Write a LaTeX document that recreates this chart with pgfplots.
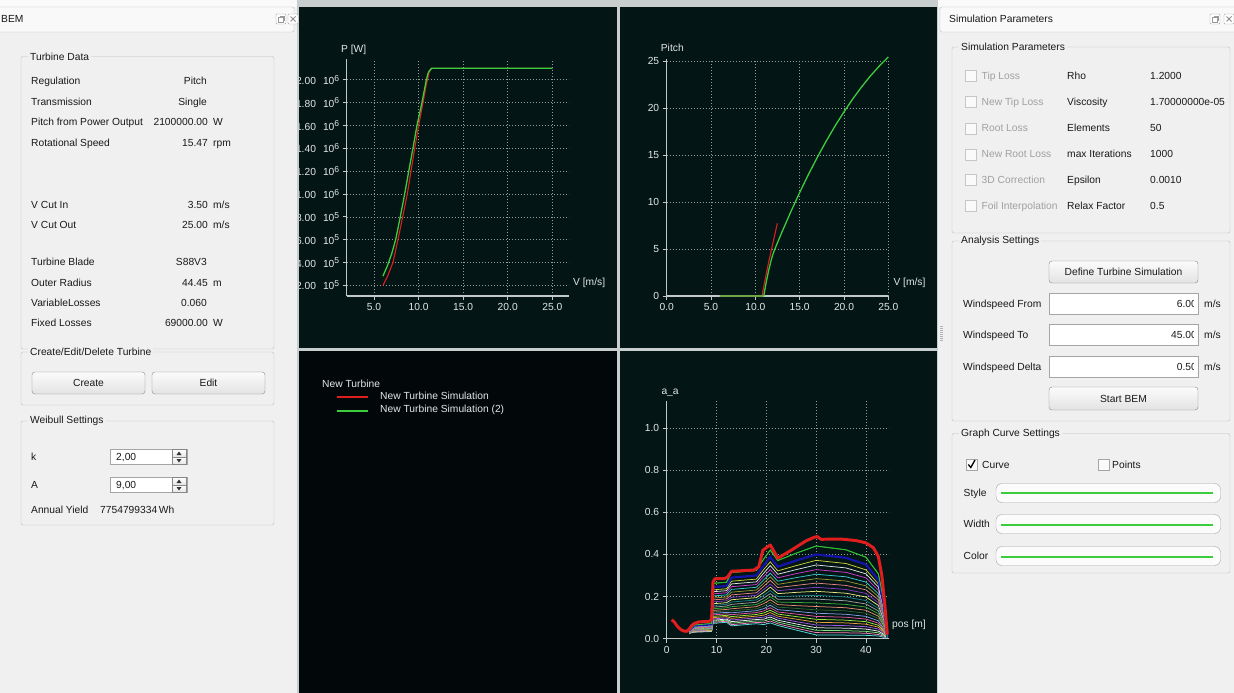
\documentclass[border=0pt]{standalone}
\usepackage{fontspec}
\setmainfont{Liberation Sans}
\usepackage{pgfplots}
\usepackage{pgfplotstable}
\pgfplotsset{compat=1.18}

\definecolor{guibg}{RGB}{240,240,240}
\definecolor{topc}{RGB}{250,250,250}
\definecolor{gboxc}{RGB}{190,190,190}
\definecolor{plotbg}{RGB}{3,21,21}
\definecolor{legbg}{RGB}{2,8,10}
\definecolor{sepc}{RGB}{200,206,206}
\definecolor{axc}{RGB}{195,200,200}
\definecolor{gridc}{RGB}{150,156,156}
\definecolor{tickc}{RGB}{228,230,230}
\definecolor{cred}{RGB}{225,30,30}
\definecolor{cgreen}{RGB}{60,205,60}
\definecolor{dis}{RGB}{160,160,160}
\definecolor{txt}{RGB}{25,25,25}
\definecolor{fieldb}{RGB}{165,165,165}
\definecolor{btnb}{RGB}{135,135,135}
\definecolor{aa1}{RGB}{50,190,50}
\definecolor{aa2}{RGB}{20,20,170}
\definecolor{aa3}{RGB}{210,210,60}
\definecolor{aa4}{RGB}{225,225,225}
\definecolor{aa5}{RGB}{210,60,210}
\definecolor{aa6}{RGB}{60,200,200}
\definecolor{aa7}{RGB}{150,150,50}
\definecolor{aa8}{RGB}{230,130,130}
\definecolor{aa9}{RGB}{130,60,200}
\definecolor{aa10}{RGB}{230,230,130}
\definecolor{aa11}{RGB}{30,130,130}
\definecolor{aa12}{RGB}{160,160,160}
\definecolor{aa13}{RGB}{60,170,60}
\definecolor{aa14}{RGB}{230,140,110}
\definecolor{aa15}{RGB}{50,100,50}
\definecolor{aa16}{RGB}{130,160,230}
\definecolor{aa17}{RGB}{230,90,160}
\definecolor{aa18}{RGB}{160,230,60}
\definecolor{aa19}{RGB}{230,160,60}
\definecolor{aa20}{RGB}{160,90,230}
\definecolor{aa21}{RGB}{240,240,240}
\definecolor{aa22}{RGB}{130,230,130}
\definecolor{aa23}{RGB}{255,130,190}
\definecolor{aa24}{RGB}{90,225,225}

\newcommand\fs{\fontsize{10.3}{12}\selectfont}
\newcommand\sx[1]{\raisebox{3.3pt}{\fontsize{8.6}{9}\selectfont #1}}
\newcommand{\txtL}[3]{\node[anchor=base west,inner sep=0pt] at (#1,#2+3.7) {#3};}
\newcommand{\txtR}[3]{\node[anchor=base east,inner sep=0pt] at (#1,#2+3.7) {#3};}
\newcommand{\gbox}[5]{\draw[gboxc, rounded corners=2bp] (#1,#2) rectangle (#3,#4);
  \node[anchor=west, fill=guibg, inner xsep=2bp, inner ysep=1bp, text=txt] at (#1+7,#2) {#5};}
\newcommand{\btn}[5]{\shade[top color=white!97!gray, bottom color=gray!22, draw=btnb, rounded corners=3bp] (#1,#2) rectangle (#3,#4);
  \node[text=txt, inner sep=0pt, anchor=base] at ({(#1+#3)/2},{(#2+#4)/2+3.7}) {#5};}
\newcommand{\cbox}[3]{\draw[#3, fill=white!96!gray] (#1,#2-5.5) rectangle +(11,11);}

% ---------- data ----------
\pgfplotstableread{
V P
6.00 197000
6.50 275000
7.13 400000
7.69 600000
8.22 800000
8.74 1000000
9.15 1200000
9.57 1400000
10.01 1600000
10.50 1800000
10.85 1950000
11.20 2070000
11.50 2100000
25.00 2100000
}\powR
\pgfplotstableread{
V P
6.00 280000
6.50 370000
7.00 480000
7.43 600000
7.95 800000
8.44 1000000
8.90 1200000
9.37 1400000
9.82 1600000
10.38 1800000
10.87 2000000
11.10 2065000
11.43 2100000
25.00 2100000
}\powG
\pgfplotstableread{
V pitch
6.00 0
10.75 0
11.10 1.75
11.50 3.60
12.00 5.70
12.48 7.73
}\pitR
\pgfplotstableread{
V pitch
6.00 0
10.95 0
11.20 1.34
11.50 2.72
11.80 3.86
12.00 4.49
12.20 5.00
13.00 6.80
14.00 8.96
15.00 11.01
16.00 12.95
17.00 14.77
18.00 16.49
19.00 18.10
20.00 19.59
21.00 20.98
22.00 22.26
23.00 23.43
24.00 24.48
25.00 25.43
}\pitG
\pgfplotstableread{
pos a
1.0 0.090
1.5 0.080
2.0 0.063
2.5 0.050
3.0 0.041
3.5 0.036
4.0 0.035
4.5 0.045
5.0 0.062
5.5 0.072
6.5 0.080
8.5 0.082
9.0 0.090
9.3 0.270
9.7 0.285
11.5 0.285
12.2 0.292
13.0 0.320
17.5 0.326
18.5 0.342
19.3 0.420
20.0 0.432
20.8 0.445
21.3 0.425
22.3 0.382
25.0 0.420
28.0 0.465
29.7 0.482
30.2 0.485
31.0 0.472
35.0 0.473
38.0 0.466
40.0 0.455
41.5 0.432
42.5 0.390
43.2 0.300
43.8 0.160
44.3 0.020
}\aared
\pgfplotstableread{
pos c1 c2 c3 c4 c5 c6 c7 c8 c9 c10 c11 c12 c13 c14 c15 c16 c17 c18 c19 c20 c21 c22 c23 c24
4.5 0.040 0.039 0.038 0.037 0.036 0.035 0.035 0.034 0.033 0.033 0.032 0.031 0.031 0.030 0.030 0.029 0.029 0.028 0.028 0.027 0.027 0.026 0.026 0.026
5.5 0.065 0.062 0.060 0.058 0.056 0.054 0.053 0.051 0.049 0.048 0.046 0.045 0.044 0.042 0.041 0.040 0.038 0.037 0.036 0.035 0.034 0.033 0.032 0.031
9.0 0.072 0.068 0.066 0.064 0.062 0.060 0.058 0.056 0.054 0.052 0.051 0.049 0.047 0.046 0.044 0.043 0.042 0.040 0.039 0.038 0.037 0.036 0.035 0.034
9.3 0.263 0.245 0.232 0.223 0.213 0.203 0.193 0.184 0.175 0.166 0.158 0.150 0.142 0.134 0.127 0.120 0.113 0.106 0.100 0.094 0.088 0.083 0.078 0.073
12.0 0.268 0.250 0.237 0.228 0.218 0.208 0.198 0.189 0.180 0.171 0.163 0.155 0.147 0.139 0.132 0.125 0.118 0.111 0.105 0.099 0.093 0.088 0.083 0.078
13.0 0.314 0.290 0.273 0.260 0.247 0.234 0.221 0.208 0.196 0.185 0.174 0.163 0.152 0.142 0.132 0.123 0.114 0.105 0.097 0.089 0.081 0.074 0.067 0.061
18.0 0.324 0.300 0.283 0.270 0.257 0.244 0.231 0.218 0.206 0.195 0.184 0.173 0.162 0.152 0.142 0.133 0.124 0.115 0.107 0.099 0.091 0.084 0.077 0.071
19.5 0.379 0.349 0.329 0.312 0.296 0.280 0.264 0.249 0.234 0.220 0.206 0.193 0.179 0.167 0.155 0.143 0.132 0.122 0.112 0.102 0.093 0.084 0.076 0.067
20.8 0.421 0.388 0.365 0.347 0.329 0.311 0.294 0.277 0.260 0.245 0.229 0.214 0.199 0.185 0.172 0.159 0.147 0.135 0.124 0.113 0.103 0.093 0.084 0.075
22.3 0.371 0.342 0.322 0.306 0.289 0.273 0.258 0.243 0.228 0.214 0.200 0.187 0.174 0.162 0.150 0.138 0.127 0.117 0.107 0.098 0.088 0.079 0.071 0.063
26.0 0.406 0.371 0.347 0.328 0.309 0.290 0.272 0.253 0.236 0.220 0.203 0.188 0.172 0.157 0.144 0.130 0.117 0.105 0.093 0.081 0.070 0.060 0.050 0.041
30.0 0.440 0.400 0.372 0.350 0.328 0.306 0.285 0.264 0.244 0.225 0.206 0.188 0.170 0.153 0.137 0.121 0.106 0.092 0.078 0.065 0.052 0.040 0.029 0.018
36.0 0.422 0.384 0.357 0.336 0.315 0.294 0.274 0.253 0.234 0.216 0.198 0.180 0.163 0.147 0.132 0.116 0.102 0.088 0.075 0.062 0.050 0.038 0.028 0.017
40.0 0.387 0.352 0.327 0.308 0.289 0.269 0.251 0.232 0.215 0.198 0.181 0.165 0.150 0.135 0.121 0.106 0.093 0.081 0.069 0.057 0.046 0.035 0.026 0.016
42.5 0.308 0.280 0.260 0.245 0.230 0.214 0.200 0.185 0.171 0.158 0.144 0.132 0.119 0.107 0.096 0.085 0.074 0.064 0.055 0.046 0.036 0.028 0.020 0.013
43.6 0.176 0.160 0.149 0.140 0.131 0.122 0.114 0.106 0.098 0.090 0.082 0.075 0.068 0.061 0.055 0.048 0.042 0.037 0.031 0.026 0.021 0.016 0.012 0.007
44.3 0.006 0.006 0.006 0.006 0.006 0.006 0.006 0.006 0.006 0.006 0.006 0.006 0.006 0.006 0.006 0.006 0.006 0.006 0.006 0.006 0.006 0.006 0.006 0.006
}\aatab

\pgfplotsset{qb/.style={
  scale only axis, anchor=south west,
  axis lines=left,
  axis line style={axc, line width=1.1pt},
  every inner x axis line/.append style={-},
  every outer x axis line/.append style={-},
  every inner y axis line/.append style={-},
  every outer y axis line/.append style={-},
  tick style={axc, line width=0.8pt},
  major tick length=4bp, tick align=outside,
  grid=major, grid style={gridc, line width=0.5pt, dash pattern=on 1bp off 2bp},
  ticklabel style={font=\fs, text=tickc},
  /pgf/number format/assume math mode=true,
  scaled ticks=false,
}}

\begin{document}
\begin{tikzpicture}[x=1bp,y=-1bp,font=\fs]
\path[use as bounding box] (0,0) rectangle (1234,693);
\fill[guibg] (0,0) rectangle (1234,693);
\fill[topc] (0,0) rectangle (1234,7);
% plot area
\fill[sepc] (297,0) rectangle (938,693);
\fill[plotbg] (299,7) rectangle (617,348);
\fill[plotbg] (620,7) rectangle (937,348);
\fill[legbg] (299,351) rectangle (617,693);
\fill[plotbg] (620,351) rectangle (937,693);

% ================= left panel =================
\begin{scope}[text=txt]
\draw[gboxc, fill=white!60!guibg, rounded corners=2bp] (-2,7) rectangle (294,32);
\txtL{1}{19}{BEM}
\draw[gray!70, rounded corners=1bp, fill=white] (276,14) rectangle (286,24);
\draw[gray!80] (278.5,17) rectangle (283.5,22); \draw[gray!80] (279.5,16) -- (284.5,16) -- (284.5,21);
\draw[gray!70, rounded corners=1bp, fill=white] (288,14) rectangle (298,24);
\draw[gray!90, line width=0.9pt] (290.5,16.5) -- (295.5,21.5) (290.5,21.5) -- (295.5,16.5);

\gbox{21}{56.5}{274}{349}{Turbine Data}
\txtL{31}{81}{Regulation}            \txtR{207}{81}{Pitch}
\txtL{31}{101.7}{Transmission}       \txtR{207}{101.7}{Single}
\txtL{31}{122}{Pitch from Power Output} \txtR{208}{122}{2100000.00} \txtL{213}{122}{W}
\txtL{31}{142.7}{Rotational Speed}   \txtR{208}{142.7}{15.47} \txtL{213}{142.7}{rpm}
\txtL{31}{204.7}{V Cut In}           \txtR{208}{204.7}{3.50} \txtL{213}{204.7}{m/s}
\txtL{31}{225.3}{V Cut Out}          \txtR{208}{225.3}{25.00} \txtL{213}{225.3}{m/s}
\txtL{31}{261.7}{Turbine Blade}      \txtR{207}{261.7}{S88V3}
\txtL{31}{282.3}{Outer Radius}       \txtR{208}{282.3}{44.45} \txtL{213}{282.3}{m}
\txtL{31}{302.3}{VariableLosses}     \txtR{207}{302.3}{0.060}
\txtL{31}{322.7}{Fixed Losses}       \txtR{208}{322.7}{69000.00} \txtL{213}{322.7}{W}

\gbox{21}{352}{274}{405}{Create/Edit/Delete Turbine}
\btn{32}{372}{145}{394}{Create}
\btn{152}{372}{265}{394}{Edit}

\gbox{21}{421}{274}{525}{Weibull Settings}
\txtL{31}{457}{k}
\draw[fieldb, fill=white] (110,449) rectangle (187,464.5);
\txtL{116}{457}{2,00}
\shade[top color=white, bottom color=gray!20, draw=btnb] (172,449.5) rectangle (186.5,457);
\shade[top color=white, bottom color=gray!20, draw=btnb] (172,457) rectangle (186.5,464);
\fill[black!80] (176.5,455) -- (181.5,455) -- (179,451.5) -- cycle;
\fill[black!80] (176.5,459) -- (181.5,459) -- (179,462.5) -- cycle;
\txtL{31}{485}{A}
\draw[fieldb, fill=white] (110,477) rectangle (187,492.5);
\txtL{116}{485}{9,00}
\shade[top color=white, bottom color=gray!20, draw=btnb] (172,477.5) rectangle (186.5,485);
\shade[top color=white, bottom color=gray!20, draw=btnb] (172,485) rectangle (186.5,492);
\fill[black!80] (176.5,483) -- (181.5,483) -- (179,479.5) -- cycle;
\fill[black!80] (176.5,487) -- (181.5,487) -- (179,490.5) -- cycle;
\txtL{31}{510}{Annual Yield}
\txtL{100}{510}{7754799334\,Wh}
\end{scope}

% ================= right panel =================
\begin{scope}[text=txt]
\draw[gboxc, fill=white!60!guibg, rounded corners=2bp] (940,7) rectangle (1238,32);
\txtL{949}{18.5}{Simulation Parameters}
\draw[gray!70, rounded corners=1bp, fill=white] (1210,14) rectangle (1220,24);
\draw[gray!80] (1212.5,17) rectangle (1217.5,22); \draw[gray!80] (1213.5,16) -- (1218.5,16) -- (1218.5,21);
\draw[gray!70, rounded corners=1bp, fill=white] (1224,14) rectangle (1234,24);
\draw[gray!90, line width=0.9pt] (1226.5,16.5) -- (1231.5,21.5) (1226.5,21.5) -- (1231.5,16.5);

\gbox{952}{47}{1230}{233}{Simulation Parameters}
\foreach \yy/\la/\lb/\lc in {76/Tip Loss/Rho/1.2000, 101.7/New Tip Loss/Viscosity/1.70000000e-05, 128.3/Root Loss/Elements/50, 154.3/New Root Loss/max Iterations/1000, 180/3D Correction/Epsilon/0.0010, 205.7/Foil Interpolation/Relax Factor/0.5}{
  \cbox{965}{\yy}{gray!45}
  \node[anchor=base west,inner sep=0pt,text=dis] at (981.5,\yy+3.7) {\la};
  \node[anchor=base west,inner sep=0pt] at (1067,\yy+3.7) {\lb};
  \node[anchor=base west,inner sep=0pt] at (1150,\yy+3.7) {\lc};
}

\gbox{952}{241}{1230}{421}{Analysis Settings}
\btn{1049}{261}{1198}{283}{Define Turbine Simulation}
\foreach \yy/\ya/\yb/\la/\va in {304/293.5/314.5/Windspeed From/6.00, 334.7/324/345/Windspeed To/45.00, 366.7/356/377/Windspeed Delta/0.50}{
  \node[anchor=base west,inner sep=0pt] at (963,\yy+3.7) {\la};
  \draw[fieldb, fill=white] (1049,\ya) rectangle (1198,\yb);
  \begin{scope}
    \clip (1050,\ya) rectangle (1193.5,\yb);
    \node[anchor=base east,inner sep=0pt] at (1197,\yy+3.7) {\va};
  \end{scope}
  \node[anchor=base west,inner sep=0pt] at (1204,\yy+3.7) {m/s};
}
\btn{1049}{387}{1198}{410}{Start BEM}

\gbox{952}{433.5}{1230}{573}{Graph Curve Settings}
\cbox{966}{464.3}{gray!70}
\draw[black, line width=1.3pt] (968.3,464.5) -- (970.8,467.5) -- (975,460);
\txtL{982}{464.3}{Curve}
\cbox{1098.5}{464.3}{gray!70}
\txtL{1112}{464.3}{Points}
\txtL{963.5}{493}{Style}
\draw[fieldb, fill=white!97!gray, rounded corners=6bp] (996,483.5) rectangle (1220.5,502.5);
\draw[cgreen, line width=1.4pt] (1001,493) -- (1213,493);
\txtL{963.5}{524}{Width}
\draw[fieldb, fill=white!97!gray, rounded corners=6bp] (996,514.5) rectangle (1220.5,533.5);
\draw[cgreen, line width=1.4pt] (1001,525) -- (1213,525);
\txtL{963.5}{556}{Color}
\draw[fieldb, fill=white!97!gray, rounded corners=6bp] (996,546.5) rectangle (1220.5,565.5);
\draw[cgreen, line width=1.4pt] (1001,557) -- (1213,557);
\foreach \yy in {326,328,...,340} {\draw[gray!60] (940,\yy) -- (943,\yy);}
\end{scope}

% ================= plot 1: power =================
\begin{scope}
\clip (299,7) rectangle (617,348);
\begin{axis}[qb, at={(346.7bp,-296bp)}, width=222bp, height=236.7bp,
  xmin=1.94, xmax=26.84, ymin=106300, ymax=2179000,
  xtick={5,10,15,20,25}, xticklabels={5.0,10.0,15.0,20.0,25.0},
  ytick={200000,400000,600000,800000,1000000,1200000,1400000,1600000,1800000,2000000},
  yticklabels={2.00\hspace{7bp}10\sx{5},4.00\hspace{7bp}10\sx{5},6.00\hspace{7bp}10\sx{5},8.00\hspace{7bp}10\sx{5},
    1.00\hspace{7bp}10\sx{6},1.20\hspace{7bp}10\sx{6},1.40\hspace{7bp}10\sx{6},1.60\hspace{7bp}10\sx{6},1.80\hspace{7bp}10\sx{6},2.00\hspace{7bp}10\sx{6}},
]
\addplot[cred, line width=1.1pt] table[x=V,y=P] {\powR};
\addplot[cgreen, line width=1.3pt] table[x=V,y=P] {\powG};
\end{axis}
\end{scope}
\node[anchor=west, inner sep=0pt, text=tickc] at (341,50) {P [W]};
\node[anchor=west, inner sep=0pt, text=tickc] at (573,283.3) {V [m/s]};

% ================= plot 2: pitch =================
\begin{axis}[qb, at={(666.7bp,-296bp)}, width=221.6bp, height=236.7bp,
  xmin=0, xmax=25, ymin=0, ymax=25.18,
  xtick={0,5,10,15,20,25}, xticklabels={0.0,5.0,10.0,15.0,20.0,25.0},
  ytick={0,5,10,15,20,25}, yticklabels={0,5,10,15,20,25},
  clip=false,
]
\addplot[cred, line width=1.1pt] table[x=V,y=pitch] {\pitR};
\addplot[cgreen, line width=1.3pt, line join=round] table[x=V,y=pitch] {\pitG};
\end{axis}
\node[anchor=west, inner sep=0pt, text=tickc] at (660.7,48.3) {Pitch};
\node[anchor=west, inner sep=0pt, text=tickc] at (893.3,283.3) {V [m/s]};

% ================= legend panel (keys drawn through a hidden axis in panel pixels) =================
\begin{axis}[at={(299bp,-693bp)}, anchor=south west, scale only axis, width=318bp, height=342bp,
  hide axis, xmin=299, xmax=617, ymin=351, ymax=693, y dir=reverse, clip=false]
\addplot[cred, line width=1.5pt] coordinates {(337,397) (368,397)};
\addplot[cgreen, line width=1.5pt] coordinates {(337,411) (368,411)};
\node[anchor=west, inner sep=0pt, text=tickc, font=\fs] at (axis cs:322,384) {New Turbine};
\node[anchor=west, inner sep=0pt, text=tickc, font=\fs] at (axis cs:380,395.5) {New Turbine Simulation};
\node[anchor=west, inner sep=0pt, text=tickc, font=\fs] at (axis cs:380,409.5) {New Turbine Simulation (2)};
\end{axis}

% ================= plot 4: axial induction =================
\begin{axis}[qb, at={(666.7bp,-638.7bp)}, width=222bp, height=237.4bp,
  xmin=0, xmax=44.58, ymin=0, ymax=1.127,
  xtick={0,10,20,30,40}, xticklabels={0,10,20,30,40},
  ytick={0,0.2,0.4,0.6,0.8,1.0}, yticklabels={0.0,0.2,0.4,0.6,0.8,1.0},
  clip=false,
]
\pgfplotsinvokeforeach{24,23,...,1}{
  \addplot[color=aa#1, line width=0.75pt] table[x=pos,y=c#1] {\aatab};
}
\addplot[aa2, line width=2.2pt] table[x=pos,y=c2] {\aatab};
\addplot[aa1, line width=0.9pt] table[x=pos,y=c1] {\aatab};
\addplot[cred, line width=3pt, line join=round] table[x=pos,y=a] {\aared};
\end{axis}
\node[anchor=west, inner sep=0pt, text=tickc] at (661.3,393) {a\_a};
\node[anchor=west, inner sep=0pt, text=tickc] at (892,624.7) {pos [m]};
\end{tikzpicture}
\end{document}
